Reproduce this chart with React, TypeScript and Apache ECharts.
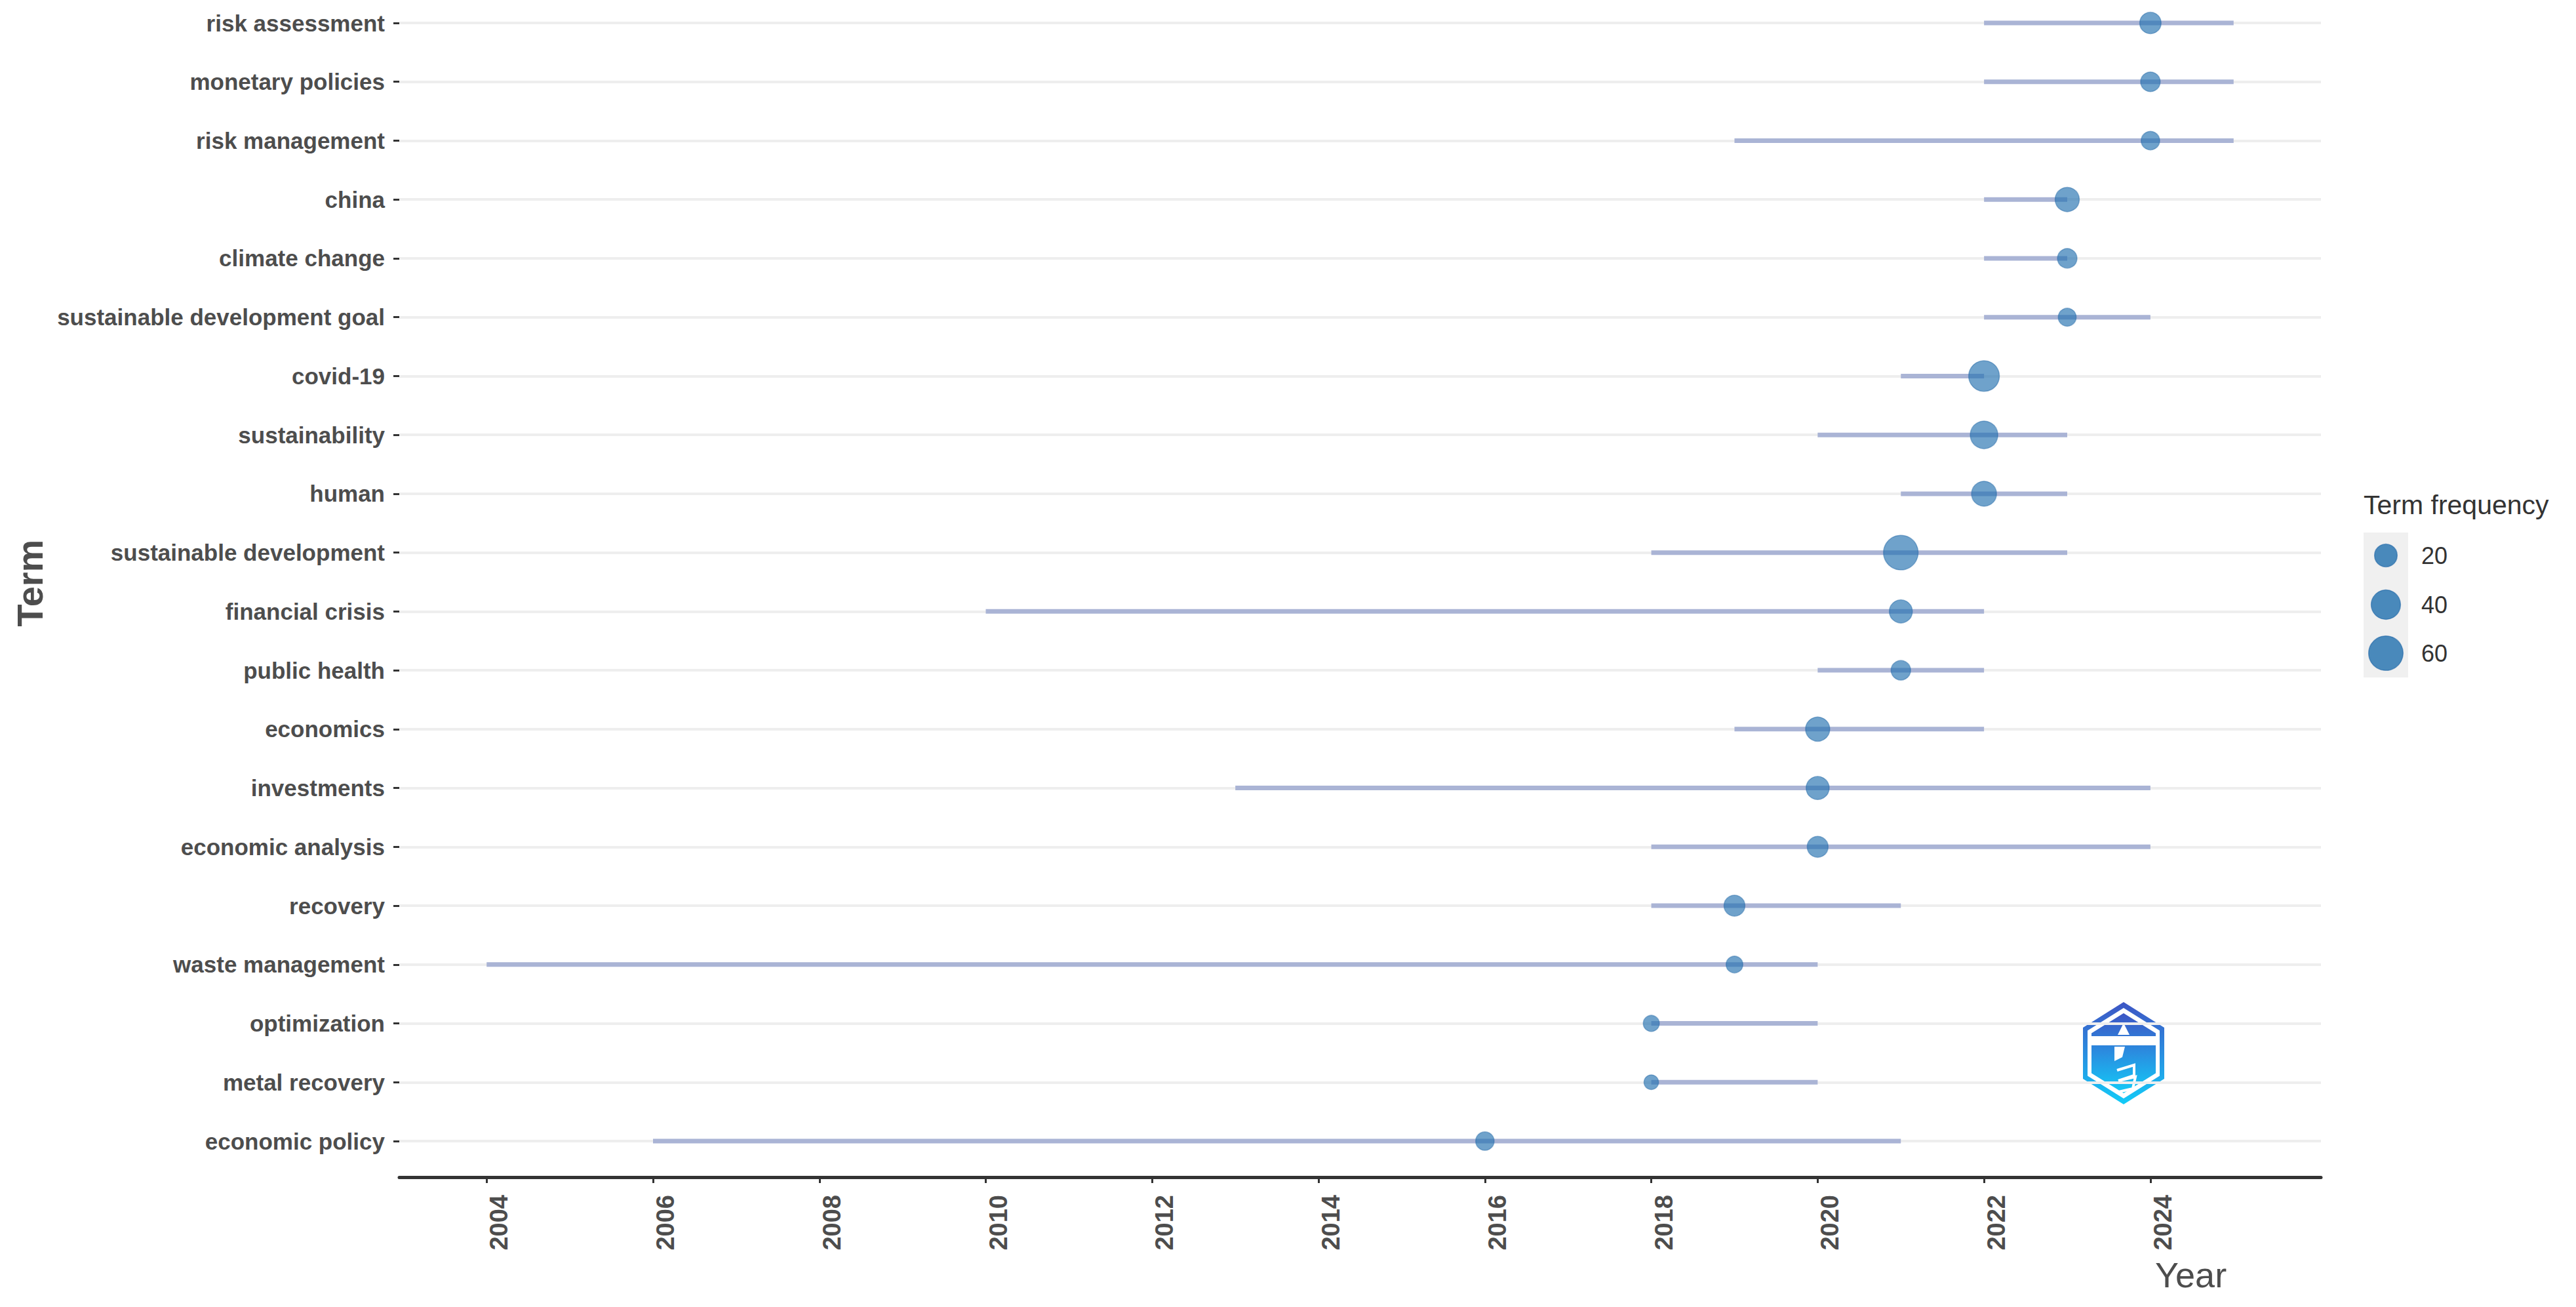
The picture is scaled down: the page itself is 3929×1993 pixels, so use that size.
import React, { useEffect, useRef } from "react";
import * as echarts from "echarts";

// ---- data (top to bottom) ----
const terms = [
  "risk assessment",
  "monetary policies",
  "risk management",
  "china",
  "climate change",
  "sustainable development goal",
  "covid-19",
  "sustainability",
  "human",
  "sustainable development",
  "financial crisis",
  "public health",
  "economics",
  "investments",
  "economic analysis",
  "recovery",
  "waste management",
  "optimization",
  "metal recovery",
  "economic policy",
];
const yearQ1 = [2022, 2022, 2019, 2022, 2022, 2022, 2021, 2020, 2021, 2018, 2010, 2020, 2019, 2013, 2018, 2018, 2004, 2018, 2018, 2006];
const yearMedian = [2024, 2024, 2024, 2023, 2023, 2023, 2022, 2022, 2022, 2021, 2021, 2021, 2020, 2020, 2020, 2019, 2019, 2018, 2018, 2016];
const yearQ3 = [2025, 2025, 2025, 2023, 2023, 2024, 2022, 2023, 2023, 2023, 2022, 2022, 2022, 2024, 2024, 2021, 2020, 2020, 2020, 2021];
const termFrequency = [17, 13, 11, 24, 13, 10, 45, 34, 26, 61, 21, 13, 24, 21, 16, 16, 8, 7, 5, 11];
const yearTicks = [2004, 2006, 2008, 2010, 2012, 2014, 2016, 2018, 2020, 2022, 2024];
const legendValues = [20, 40, 60];

const FONT = '"Liberation Sans", Arial, sans-serif';
const POINT_COLOR = "rgba(35,113,175,0.82)";
const sizeOf = (f: number) => 10 + 5.5 * Math.sqrt(f);

function hexPoints(cx: number, cy: number, rx: number, ry: number) {
  return [
    [cx, cy - ry],
    [cx + rx, cy - ry / 2],
    [cx + rx, cy + ry / 2],
    [cx, cy + ry],
    [cx - rx, cy + ry / 2],
    [cx - rx, cy - ry / 2],
  ];
}

export default function App() {
  const ref = useRef<HTMLDivElement>(null);
  useEffect(() => {
    if (!ref.current) return;
    const chart = echarts.init(ref.current, null, { renderer: "svg" });

    const grad = () =>
      new echarts.graphic.LinearGradient(0, 0, 0, 1, [
        { offset: 0, color: "#3d55c4" },
        { offset: 0.5, color: "#2a8ee0" },
        { offset: 1, color: "#12ccf8" },
      ]);
    const lcx = 3239;
    const lcy = 1606;

    const legendX = 3639;
    const legendYs = [847, 922, 996];

    const option: any = {
      animation: false,
      backgroundColor: "#ffffff",
      grid: { left: 609, right: 389, top: 35, bottom: 253 },
      xAxis: {
        type: "value",
        min: 2002.95,
        max: 2026.05,
        offset: 55,
        axisLine: { show: true, lineStyle: { color: "#333333", width: 5 } },
        axisTick: {
          show: true,
          customValues: yearTicks,
          length: 9,
          lineStyle: { color: "#333333", width: 3 },
        },
        axisLabel: {
          customValues: yearTicks,
          rotate: 90,
          verticalAlign: "top",
          margin: 27,
          fontSize: 38,
          fontWeight: "bold",
          fontFamily: FONT,
          color: "#4d4d4d",
          formatter: (v: number) => String(v),
        },
        splitLine: { show: false },
      },
      yAxis: {
        type: "category",
        data: terms,
        inverse: true,
        boundaryGap: false,
        axisLine: { show: false },
        axisTick: { show: true, interval: 0, length: 9, lineStyle: { color: "#333333", width: 3 } },
        axisLabel: {
          interval: 0,
          margin: 22,
          fontSize: 35,
          fontWeight: "bold",
          fontFamily: FONT,
          color: "#4d4d4d",
        },
        splitLine: { show: true, interval: 0, lineStyle: { color: "#eeeeee", width: 4 } },
      },
      series: [
        {
          type: "custom",
          z: 2,
          encode: { x: [0, 1], y: 2 },
          data: terms.map((_, i) => [yearQ1[i], yearQ3[i], i]),
          renderItem: (params: any, api: any) => {
            const y = api.value(2);
            const p1 = api.coord([api.value(0), y]);
            const p2 = api.coord([api.value(1), y]);
            return {
              type: "line",
              shape: { x1: p1[0], y1: p1[1], x2: p2[0], y2: p2[1] },
              style: { stroke: "#aab4d5", lineWidth: 7, lineCap: "butt" },
            };
          },
        },
        {
          type: "scatter",
          z: 3,
          data: terms.map((_, i) => [yearMedian[i], i, termFrequency[i]]),
          symbol: "circle",
          symbolSize: (v: number[]) => sizeOf(v[2]),
          itemStyle: {
            color: POINT_COLOR,
            borderColor: "rgba(30,100,165,0.55)",
            borderWidth: 1.5,
          },
        },
      ],
      graphic: [
        // axis titles
        {
          type: "text",
          x: 45,
          y: 889,
          rotation: Math.PI / 2,
          style: {
            text: "Term",
            font: `bold 56px ${FONT}`,
            fill: "#4d4d4d",
            align: "center",
            verticalAlign: "middle",
            textAlign: "center",
            textVerticalAlign: "middle",
          },
        },
        {
          type: "text",
          x: 3287,
          y: 1944,
          style: {
            text: "Year",
            font: `54px ${FONT}`,
            fill: "#4d4d4d",
            align: "left",
            verticalAlign: "middle",
            textAlign: "left",
            textVerticalAlign: "middle",
          },
        },
        // legend
        {
          type: "text",
          x: 3605,
          y: 770,
          style: {
            text: "Term frequency",
            font: `41px ${FONT}`,
            fill: "#333333",
            align: "left",
            verticalAlign: "middle",
            textAlign: "left",
            textVerticalAlign: "middle",
          },
        },
        {
          type: "rect",
          shape: { x: 3605, y: 812, width: 68, height: 221 },
          style: { fill: "#f0f0f0" },
        },
        ...legendValues.map((v, k) => ({
          type: "circle",
          shape: { cx: legendX, cy: legendYs[k], r: sizeOf(v) / 2 },
          style: { fill: POINT_COLOR, stroke: "rgba(30,100,165,0.55)", lineWidth: 1.5 },
        })),
        ...legendValues.map((v, k) => ({
          type: "text",
          x: 3693,
          y: legendYs[k],
          style: {
            text: String(v),
            font: `36px ${FONT}`,
            fill: "#333333",
            align: "left",
            verticalAlign: "middle",
            textAlign: "left",
            textVerticalAlign: "middle",
          },
        })),
        // watermark logo
        {
          type: "polygon",
          shape: { points: hexPoints(lcx, lcy, 62, 78) },
          style: { fill: grad() },
        },
        {
          type: "polygon",
          shape: { points: hexPoints(lcx, lcy, 55, 69) },
          style: { fill: "#ffffff" },
        },
        {
          type: "polygon",
          shape: { points: hexPoints(lcx, lcy, 49, 61) },
          style: { fill: grad() },
        },
        {
          type: "rect",
          shape: { x: lcx - 49, y: 1580, width: 98, height: 14 },
          style: { fill: "#ffffff" },
        },
        {
          type: "polygon",
          shape: { points: [[lcx, 1560], [lcx - 9, 1578], [lcx + 9, 1578]] },
          style: { fill: "#ffffff" },
        },
        {
          type: "polygon",
          shape: { points: [[lcx - 14, 1596], [lcx + 2, 1596], [lcx - 2, 1612], [lcx - 14, 1618]] },
          style: { fill: "#ffffff" },
        },
        {
          type: "polyline",
          shape: {
            points: [[lcx - 10, 1632], [lcx + 16, 1624], [lcx + 16, 1640], [lcx - 8, 1648], [lcx + 18, 1642], [lcx + 14, 1660], [lcx - 12, 1666]],
          },
          style: { stroke: "#ffffff", lineWidth: 4, fill: "none" },
        },
      ],
    };

    chart.setOption(option);
    return () => chart.dispose();
  }, []);

  return (
    <div
      ref={ref}
      style={{ position: "fixed", left: 0, top: 0, width: 3929, height: 1993, background: "#fff" }}
    />
  );
}
